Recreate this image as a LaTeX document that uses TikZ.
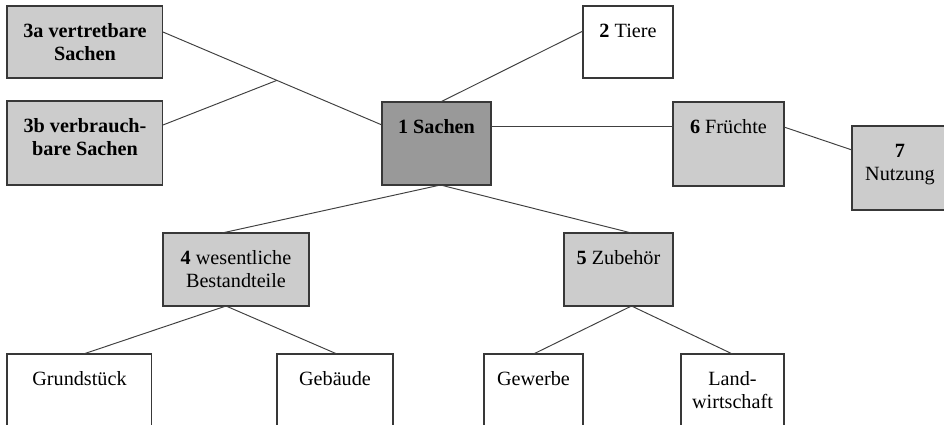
\documentclass[tikz,border=0pt]{standalone}
\usepackage{fontspec}
\setmainfont{Liberation Serif}
\usetikzlibrary{calc}
\definecolor{hellgrau}{HTML}{CCCCCC}
\definecolor{dunkelgrau}{HTML}{999999}
\definecolor{rand}{HTML}{383838}

\begin{document}
\begin{tikzpicture}[x=0.02cm, y=-0.02cm,
    kasten/.style={draw=rand, line width=0.6pt, inner sep=0pt, outer sep=0pt, anchor=north west},
    beschr/.style={anchor=base, align=center, inner sep=0pt, font=\fontsize{11.5}{13}\selectfont},
    linie/.style={draw=black!75, line width=0.55pt}]
            \clip (0,0) rectangle (944,424);

            % obere Reihe
            \node[kasten, fill=hellgrau, minimum width=3.12cm, minimum height=1.44cm] (sa3a) at (7,6) {};
            \node[kasten, fill=hellgrau, minimum width=3.12cm, minimum height=1.68cm] (sa3b) at (7,101) {};
            \node[kasten, fill=dunkelgrau, minimum width=2.18cm, minimum height=1.66cm] (sachen) at (382,102) {};
            \node[kasten, minimum width=1.8cm, minimum height=1.44cm] (tiere) at (583,6) {};
            \node[kasten, fill=hellgrau, minimum width=2.22cm, minimum height=1.68cm] (fruechte) at (673,102) {};
            \node[kasten, fill=hellgrau, minimum width=1.92cm, minimum height=1.68cm] (nutzung) at (852,126) {};

            % mittlere Reihe
            \node[kasten, fill=hellgrau, minimum width=2.92cm, minimum height=1.46cm] (wesentl) at (163,233) {};
            \node[kasten, fill=hellgrau, minimum width=2.18cm, minimum height=1.46cm] (zubehoer) at (564,233) {};

            % untere Reihe
            \node[kasten, minimum width=2.9cm, minimum height=1.8cm] (grund) at (7,354) {};
            \node[kasten, minimum width=2.32cm, minimum height=1.8cm] (gebaeude) at (277,354) {};
            \node[kasten, minimum width=1.98cm, minimum height=1.8cm] (gewerbe) at (484,354) {};
            \node[kasten, minimum width=2.06cm, minimum height=1.8cm] (land) at (681,354) {};

            % Beschriftungen (zweizeilig: Grundlinie der letzten Zeile)
            \node[beschr] (t3a) at ($(sa3a.north)+(0,54)$) {\textbf{3a vertretbare}\\\textbf{Sachen}};
            \node[beschr] (t3b) at ($(sa3b.north)+(0,54)$) {\textbf{3b verbrauch-}\\\textbf{bare Sachen}};
            \node[beschr] (tsachen) at ($(sachen.north)+(0,31)$) {\textbf{1 Sachen}};
            \node[beschr] (ttiere) at ($(tiere.north)+(0,31)$) {\textbf{2} Tiere};
            \node[beschr] (tfruechte) at ($(fruechte.north)+(0,31)$) {\textbf{6} Früchte};
            \node[beschr] (tnutzung) at ($(nutzung.north)+(0,54)$) {\textbf{7}\\Nutzung};
            \node[beschr] (twesentl) at ($(wesentl.north)+(0,54)$) {\textbf{4} wesentliche\\Bestandteile};
            \node[beschr] (tzubehoer) at ($(zubehoer.north)+(0,31)$) {\textbf{5} Zubehör};
            \node[beschr] (tgrund) at ($(grund.north)+(0,31)$) {Grundstück};
            \node[beschr] (tgebaeude) at ($(gebaeude.north)+(0,31)$) {Gebäude};
            \node[beschr] (tgewerbe) at ($(gewerbe.north)+(0,31)$) {Gewerbe};
            \node[beschr] (tland) at ($(land.north)+(0,54)$) {Land-\\wirtschaft};

            % Verbindungen
            \draw[linie] ($(sa3a.north east)+(0,26)$) -- coordinate[pos=0.52] (knick) ($(sachen.north west)+(0,23)$);
            \draw[linie] ($(sa3b.north east)+(0,24)$) -- (knick);
            \draw[linie] ($(sachen.north)+(4,0)$) -- ($(tiere.north west)+(0,25)$);
            \draw[linie] ($(sachen.north east)+(0,24)$) -- ($(fruechte.north west)+(0,24)$);
            \draw[linie] ($(fruechte.north east)+(0,25)$) -- ($(nutzung.north west)+(0,24)$);
            \draw[linie] ($(sachen.south)+(4,0)$) -- ($(wesentl.north)+(-14,0)$);
            \draw[linie] ($(sachen.south)+(4,0)$) -- ($(zubehoer.north)+(13,0)$);
            \draw[linie] ($(wesentl.south)+(-10,0)$) -- ($(grund.north)+(4,0)$);
            \draw[linie] ($(wesentl.south)+(-10,0)$) -- ($(gebaeude.north)+(2,0)$);
            \draw[linie] ($(zubehoer.south)+(13,0)$) -- (gewerbe.north);
            \draw[linie] ($(zubehoer.south)+(13,0)$) -- (land.north);
        \end{tikzpicture}
\end{document}
